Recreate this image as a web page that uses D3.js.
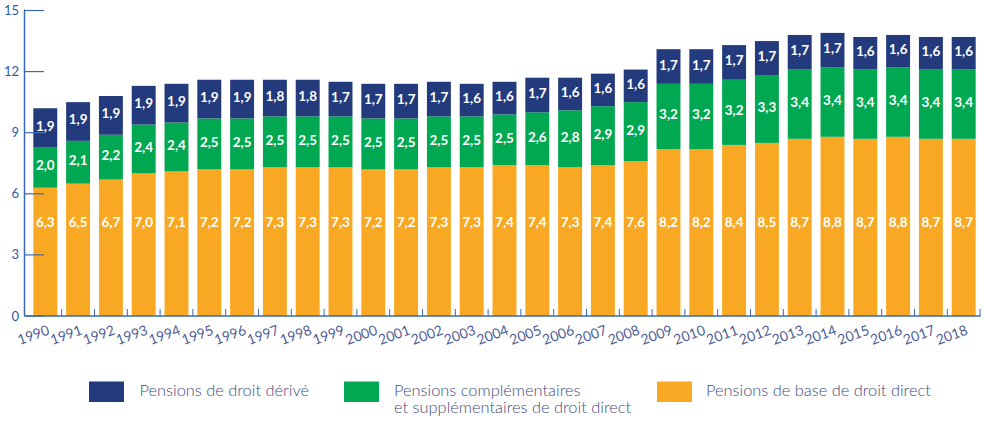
<!DOCTYPE html>
<html>
<head>
<meta charset="utf-8">
<script src="https://cdn.jsdelivr.net/npm/d3@7"></script>
<style>
  body { margin: 0; background: #fff; }
  svg { display: block; }
</style>
</head>
<body>
<svg id="chart"></svg>
<script>
const years = [1990, 1991, 1992, 1993, 1994, 1995, 1996, 1997, 1998, 1999,
    2000, 2001, 2002, 2003, 2004, 2005, 2006, 2007, 2008, 2009,
    2010, 2011, 2012, 2013, 2014, 2015, 2016, 2017, 2018];
const baseDirect = [6.3, 6.5, 6.7, 7.0, 7.1, 7.2, 7.2, 7.3, 7.3, 7.3,
    7.2, 7.2, 7.3, 7.3, 7.4, 7.4, 7.3, 7.4, 7.6, 8.2,
    8.2, 8.4, 8.5, 8.7, 8.8, 8.7, 8.8, 8.7, 8.7];
const complementaires = [2.0, 2.1, 2.2, 2.4, 2.4, 2.5, 2.5, 2.5, 2.5, 2.5,
    2.5, 2.5, 2.5, 2.5, 2.5, 2.6, 2.8, 2.9, 2.9, 3.2,
    3.2, 3.2, 3.3, 3.4, 3.4, 3.4, 3.4, 3.4, 3.4];
const derive = [1.9, 1.9, 1.9, 1.9, 1.9, 1.9, 1.9, 1.8, 1.8, 1.7,
    1.7, 1.7, 1.7, 1.6, 1.6, 1.7, 1.6, 1.6, 1.6, 1.7,
    1.7, 1.7, 1.7, 1.7, 1.7, 1.6, 1.6, 1.6, 1.6];
const yTicks = [0, 3, 6, 9, 12, 15];

const series = [
    { key: "base", name: "Pensions de base de droit direct", values: baseDirect, color: "#f8a823" },
    { key: "comp", name: "Pensions complémentaires|et supplémentaires de droit direct", values: complementaires, color: "#00a851" },
    { key: "deriv", name: "Pensions de droit dérivé", values: derive, color: "#233a7c" }
];

const width = 985, height = 421;
const axisColor = "#3a69b3";

const svg = d3.select("#chart")
    .attr("width", width)
    .attr("height", height)
    .style("font-family", "Lato, 'Open Sans', sans-serif");

const rows = years.map((y, i) => {
    const r = { year: y };
    series.forEach(s => r[s.key] = s.values[i]);
    return r;
});

const stack = d3.stack().keys(series.map(s => s.key));
const layers = stack(rows);

const x = d3.scaleBand()
    .domain(years)
    .range([28.9, 980.1])
    .paddingInner(0.27)
    .paddingOuter(0.135);

const y = d3.scaleLinear()
    .domain([0, 15])
    .range([316, 10.5]);

// Bars
const g = svg.append("g");
layers.forEach((layer, li) => {
    const s = series[li];
    g.selectAll(".bar-" + s.key)
        .data(layer)
        .enter()
        .append("rect")
        .attr("x", d => x(d.data.year))
        .attr("width", x.bandwidth())
        .attr("y", d => y(d[1]))
        .attr("height", d => y(d[0]) - y(d[1]))
        .attr("fill", s.color);
});

// Value labels
const fmt = v => d3.format(".1f")(v).replace(".", ",");
layers.forEach((layer, li) => {
    const s = series[li];
    g.selectAll(".lab-" + s.key)
        .data(layer)
        .enter()
        .append("text")
        .attr("x", d => x(d.data.year) + x.bandwidth() / 2)
        .attr("y", d => li === 0 ? y(4.6) + 5 : y((d[0] + d[1]) / 2) + 3)
        .attr("text-anchor", "middle")
        .attr("fill", "#fff")
        .attr("font-size", 13.5)
        .attr("font-weight", "bold")
        .text(d => fmt(d[1] - d[0]));
});

// Y axis
const yAxis = svg.append("g");
yAxis.append("line")
    .attr("x1", 24.5).attr("x2", 24.5)
    .attr("y1", y(15) - 1).attr("y2", y(0))
    .attr("stroke", axisColor).attr("stroke-width", 1.5);
yAxis.selectAll(".ytick")
    .data(yTicks)
    .enter()
    .append("line")
    .attr("x1", 24.5).attr("x2", 44)
    .attr("y1", d => y(d)).attr("y2", d => y(d))
    .attr("stroke", axisColor).attr("stroke-width", 1.2);
yAxis.selectAll(".ylab")
    .data(yTicks)
    .enter()
    .append("text")
    .attr("x", 19)
    .attr("y", d => y(d) + 4.5)
    .attr("text-anchor", "end")
    .attr("fill", "#2f5aa6")
    .attr("font-size", 13)
    .text(d => d);

// X axis
const xAxis = svg.append("g");
xAxis.append("line")
    .attr("x1", 24.5).attr("x2", 980.5)
    .attr("y1", y(0)).attr("y2", y(0))
    .attr("stroke", axisColor).attr("stroke-width", 1.5);
xAxis.selectAll(".xtick")
    .data(years)
    .enter()
    .append("line")
    .attr("x1", d => x(d) + x.bandwidth() + x.step() * 0.135)
    .attr("x2", d => x(d) + x.bandwidth() + x.step() * 0.135)
    .attr("y1", y(0)).attr("y2", y(0) - 7)
    .attr("stroke", axisColor).attr("stroke-width", 1);
xAxis.selectAll(".xlab")
    .data(years)
    .enter()
    .append("text")
    .attr("transform", d => `translate(${x(d) + x.bandwidth() / 2 + 5},${y(0) + 18}) rotate(-20)`)
    .attr("text-anchor", "end")
    .attr("fill", "#4e5e96")
    .attr("font-size", 14)
    .text(d => d);

// Legend
const legendItems = [
    { s: series[2], sx: 89, tx: 139.5 },
    { s: series[1], sx: 344, tx: 394 },
    { s: series[0], sx: 657, tx: 706 }
];
const legend = svg.append("g");
legendItems.forEach(it => {
    legend.append("rect")
        .attr("x", it.sx).attr("y", 381.5)
        .attr("width", 35).attr("height", 20.5)
        .attr("fill", it.s.color);
    it.s.name.split("|").forEach((line, i) => {
        legend.append("text")
            .attr("x", it.tx).attr("y", 395.5 + i * 17.5)
            .attr("fill", "#3f4d80")
            .attr("font-size", 16.4)
            .attr("font-weight", 300)
            .text(line);
    });
});
</script>
</body>
</html>
